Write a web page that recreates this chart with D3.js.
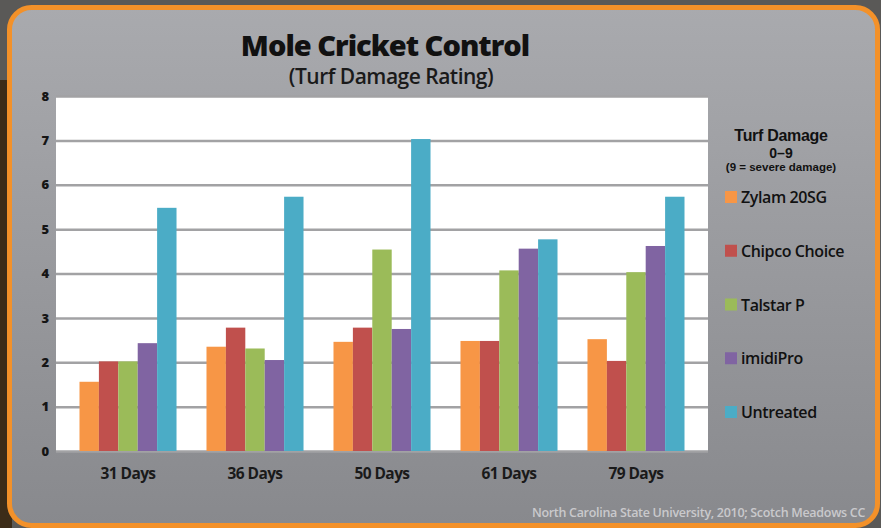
<!DOCTYPE html>
<html>
<head>
<meta charset="utf-8">
<script src="https://cdn.jsdelivr.net/npm/d3@7"></script>
<style>
  body { margin: 0; background: #4a4845; }
  svg { display: block; }
</style>
</head>
<body>
<svg></svg>
<script>
const groups = ['31 Days', '36 Days', '50 Days', '61 Days', '79 Days'];
const seriesNames = ['Zylam 20SG', 'Chipco Choice', 'Talstar P', 'imidiPro', 'Untreated'];
const seriesColors = ['#f79646', '#c0504d', '#9bbb59', '#8064a2', '#4bacc6'];

// one array per product, values in group order
const zylam = [1.56, 2.35, 2.46, 2.48, 2.52];
const chipco = [2.02, 2.78, 2.78, 2.48, 2.03];
const talstar = [2.02, 2.31, 4.54, 4.07, 4.03];
const imidipro = [2.43, 2.05, 2.75, 4.56, 4.62];
const untreated = [5.48, 5.73, 7.03, 4.77, 5.73];
const yTicks = [0, 1, 2, 3, 4, 5, 6, 7, 8];
const legendHeader = ['Turf Damage', '0–9', '(9 = severe damage)'];

const seriesValues = [zylam, chipco, talstar, imidipro, untreated];

const width = 881;
const height = 528;

const plot = { left: 56, right: 708, top: 96, bottom: 451 };

const svg = d3.select('svg')
    .attr('width', width)
    .attr('height', height);

const defs = svg.append('defs');
const grad = defs.append('linearGradient')
    .attr('id', 'cardFill')
    .attr('x1', 0).attr('y1', 0).attr('x2', 0).attr('y2', 1);
grad.append('stop').attr('offset', '0%').attr('stop-color', '#a9aaae');
grad.append('stop').attr('offset', '100%').attr('stop-color', '#88898d');

// surroundings of the card
svg.append('rect')
    .attr('width', width).attr('height', height)
    .attr('fill', '#5a5957');
svg.append('rect')
    .attr('x', 0).attr('y', 80).attr('width', 12).attr('height', height - 80)
    .attr('fill', '#3c2c18');

// card with orange border
svg.append('rect')
    .attr('x', 9.5).attr('y', 7.5)
    .attr('width', 868).attr('height', 518)
    .attr('rx', 22)
    .attr('fill', 'url(#cardFill)')
    .attr('stroke', '#f39129')
    .attr('stroke-width', 5);

// title
svg.append('text')
    .attr('x', 385).attr('y', 56)
    .attr('text-anchor', 'middle')
    .style('font-family', 'Open Sans')
    .style('font-weight', 800)
    .style('font-size', '29px')
    .style('letter-spacing', '-1px')
    .attr('fill', '#111')
    .text('Mole Cricket Control');

svg.append('text')
    .attr('x', 391).attr('y', 84)
    .attr('text-anchor', 'middle')
    .style('font-family', 'Open Sans')
    .style('font-weight', 600)
    .style('font-size', '21px')
    .style('letter-spacing', '-0.5px')
    .attr('fill', '#1a1a1a')
    .text('(Turf Damage Rating)');

// scales
const x0 = d3.scaleBand()
    .domain(groups)
    .range([plot.left, plot.right])
    .paddingInner(0.236)
    .paddingOuter(0.185);

const x1 = d3.scaleBand()
    .domain(seriesNames)
    .range([0, x0.bandwidth()]);

const y = d3.scaleLinear()
    .domain([0, 8])
    .range([plot.bottom, plot.top]);

// plot background
svg.append('rect')
    .attr('x', plot.left).attr('y', plot.top)
    .attr('width', plot.right - plot.left)
    .attr('height', plot.bottom - plot.top)
    .attr('fill', '#fff');

// y axis with gridlines
const yAxis = d3.axisLeft(y)
    .tickValues(yTicks)
    .tickFormat(d3.format('d'))
    .tickSize(-(plot.right - plot.left))
    .tickPadding(7);

const yg = svg.append('g')
    .attr('transform', 'translate(' + plot.left + ',0)')
    .call(yAxis);
yg.select('.domain').remove();
yg.selectAll('.tick line')
    .attr('stroke', '#a2a2a4')
    .attr('stroke-width', 2.5);
yg.selectAll('.tick text')
    .style('font-family', 'Open Sans')
    .style('font-weight', 800)
    .style('font-size', '13px')
    .attr('fill', '#151515');

// bars
const barData = [];
groups.forEach((g, gi) => {
    seriesNames.forEach((s, si) => {
        barData.push({ group: g, series: s, value: seriesValues[si][gi], color: seriesColors[si] });
    });
});

svg.append('g')
    .selectAll('rect')
    .data(barData)
    .enter()
    .append('rect')
    .attr('x', d => x0(d.group) + x1(d.series))
    .attr('y', d => y(d.value))
    .attr('width', x1.bandwidth())
    .attr('height', d => y(0) - y(d.value))
    .attr('fill', d => d.color);

// x axis labels
const xAxis = d3.axisBottom(x0)
    .tickSize(0)
    .tickPadding(16);

const xg = svg.append('g')
    .attr('transform', 'translate(0,' + (plot.bottom + 1) + ')')
    .call(xAxis);
xg.select('.domain').remove();
xg.selectAll('.tick text')
    .style('font-family', 'Open Sans')
    .style('font-weight', 700)
    .style('font-size', '15.5px')
    .style('letter-spacing', '-0.6px')
    .attr('fill', '#1a1a1a');

// legend header, three tight lines (compact font metrics)
const legend = svg.append('g');
const headerSizes = [16, 14, 11.5];
const headerY = [141, 157.5, 171];
legend.selectAll('text.head')
    .data(legendHeader)
    .enter()
    .append('text')
    .attr('class', 'head')
    .attr('x', 781)
    .attr('y', (d, i) => headerY[i])
    .attr('text-anchor', 'middle')
    .style('font-family', '"Liberation Sans", Arial, sans-serif')
    .style('font-weight', 700)
    .style('font-size', (d, i) => headerSizes[i] + 'px')
    .style('letter-spacing', (d, i) => i === 0 ? '-0.3px' : '0px')
    .attr('fill', '#111')
    .text(d => d);

const legendY = d3.scalePoint()
    .domain(seriesNames)
    .range([197, 412]);

const items = legend.selectAll('g.item')
    .data(seriesNames)
    .enter()
    .append('g')
    .attr('class', 'item')
    .attr('transform', d => 'translate(725,' + legendY(d) + ')');

items.append('rect')
    .attr('x', 0).attr('y', -6)
    .attr('width', 12).attr('height', 12)
    .attr('fill', (d, i) => seriesColors[i]);

items.append('text')
    .attr('x', 16).attr('y', 6)
    .style('font-family', 'Open Sans')
    .style('font-weight', 600)
    .style('font-size', '16px')
    .style('letter-spacing', '-0.4px')
    .attr('fill', '#111')
    .text(d => d);

// source note
svg.append('text')
    .attr('x', 865).attr('y', 517)
    .attr('text-anchor', 'end')
    .style('font-family', 'Open Sans')
    .style('font-weight', 600)
    .style('font-size', '12.5px')
    .style('letter-spacing', '-0.3px')
    .attr('fill', '#c9c9cc')
    .text('North Carolina State University, 2010; Scotch Meadows CC');
</script>
</body>
</html>
